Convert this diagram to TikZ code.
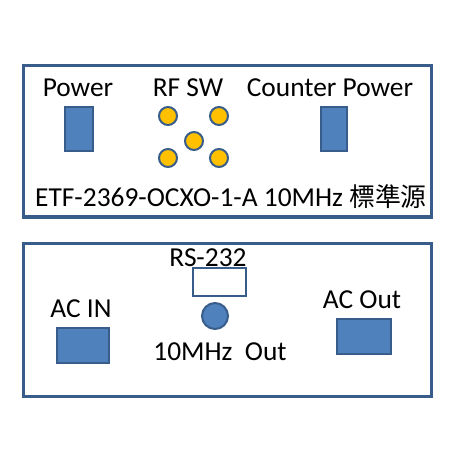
\documentclass[tikz,border=0pt]{standalone}
\usepackage{fontspec}
\setmainfont{Carlito}
\newfontfamily\cjk{Noto Sans CJK TC}
\definecolor{bordc}{HTML}{385D8A}
\definecolor{fillc}{HTML}{4F81BD}
\definecolor{knob}{HTML}{FFC000}
\begin{document}
\begin{tikzpicture}[x=1bp,y=-1bp,
  panel/.style={draw=bordc,line width=3bp},
  blk/.style={draw=bordc,fill=fillc,line width=2bp},
  knobc/.style={circle,draw=bordc,fill=knob,line width=2bp,minimum size=18bp,inner sep=0},
  lbl/.style={font=\fontsize{27.5}{32}\selectfont,inner sep=0,text=black}]
\useasboundingbox (0,0) rectangle (460,460);
\draw[panel] (23.5,66) rectangle (431.5,217);
\draw[panel] (23.5,243) rectangle (431.5,396);
% top panel
\node[lbl] (pw) at (78,88) {Power};
\node[lbl] (rf) at (188,88) {RF SW};
\node[lbl] (cp) at (330,88) {Counter Power};
\draw[blk] (65,107) rectangle (93,151);
\draw[blk] (321,107) rectangle (347,151);
\node[knobc] (k1) at (168,116) {};
\node[knobc] (k2) at (219,116) {};
\node[knobc] (k3) at (194,141) {};
\node[knobc] (k4) at (168,158) {};
\node[knobc] (k5) at (219,158) {};
\node[lbl,anchor=west] (title) at (35,197) {ETF-2369-OCXO-1-A 10MHz {\cjk\fontsize{26}{30}\selectfont 標準源}};
% bottom panel
\node[lbl] (rs) at (208,258) {RS-232};
\draw[draw=bordc,fill=white,line width=2bp] (193,268) rectangle (246,296);
\node[circle,draw=bordc,fill=fillc,line width=2bp,minimum size=26bp,inner sep=0] (bnc) at (215,316) {};
\node[lbl] (mhz) at (220,352) {10MHz\ \ Out};
\node[lbl] (acin) at (81,309) {AC IN};
\draw[blk] (57,328) rectangle (109,363);
\node[lbl] (acout) at (362,300) {AC Out};
\draw[blk] (337,319) rectangle (391,354);
\end{tikzpicture}
\end{document}
